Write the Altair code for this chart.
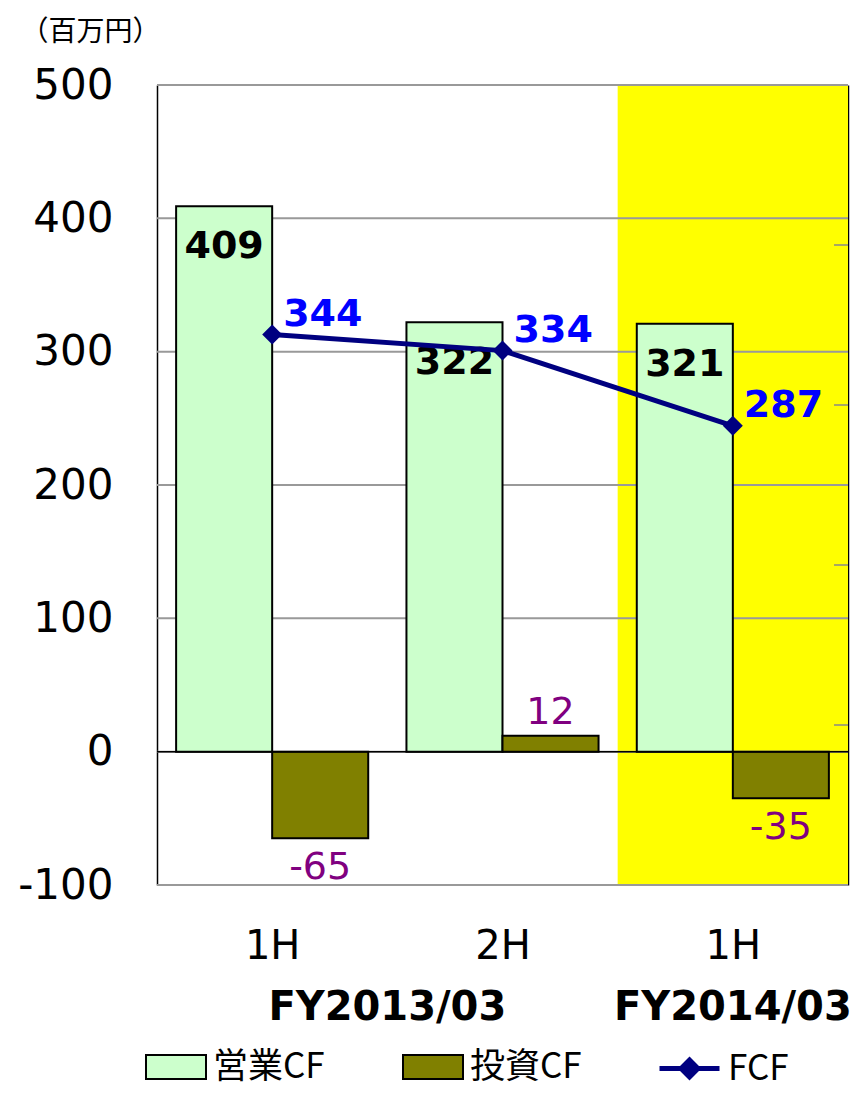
import json
import altair as alt
import pandas as pd

# ---- data ----
periods = ["1H", "2H", "1H"]
fiscal_years = ["FY2013/03", "FY2013/03", "FY2014/03"]
operating_cf = [409, 322, 321]
investing_cf = [-65, 12, -35]
free_cf = [344, 334, 287]
highlight_year = "FY2014/03"
series_names = ["営業CF", "投資CF", "FCF"]
series_colors = ["#CCFFCC", "#808000", "#000080"]
left_ticks = [-100, 0, 100, 200, 300, 400, 500]
right_ticks = [100, 200, 300, 400]
left_domain = [-100, 500]
right_domain = [0, 500]
unit_label = "（百万円）"

# ---- layout / style ----
W, H = 691, 800
NUM_FONT = "DejaVu Sans"
JP_FONT = "Noto Sans CJK JP"
GAP = 0.083  # outer gap of each category slot (fraction of slot)

n = len(periods)
idx = list(range(n))

bars_df = pd.DataFrame({
    "idx": idx * 2,
    "series": [series_names[0]] * n + [series_names[1]] * n,
    "value": operating_cf + investing_cf,
    "slot": [0] * n + [1] * n,
})
fcf_df = pd.DataFrame({"idx": idx, "series": series_names[2], "value": free_cf})
fy_df = pd.DataFrame({"idx": idx, "fy": fiscal_years})
hl_df = pd.DataFrame({"idx": [i for i, fy in zip(idx, fiscal_years) if fy == highlight_year]})
hl_df["lo"] = left_domain[0]
hl_df["hi"] = left_domain[1]
grid_df = pd.DataFrame({"g": left_ticks})
rtick_df = pd.DataFrame({"t": right_ticks})

xscale = alt.Scale(domain=[0, n], nice=False, zero=False)
yscale_left = alt.Scale(domain=left_domain, nice=False, zero=False)
yscale_right = alt.Scale(domain=right_domain, nice=False, zero=False)

x_axis = alt.Axis(
    title=None, values=[i + 0.5 for i in idx],
    labelExpr=f"{json.dumps(periods, ensure_ascii=False)}[floor(datum.value)]",
    labelAngle=0, labelFont=NUM_FONT, labelFontSize=40, labelColor="black",
    labelPadding=41, domain=False, ticks=False, tickSize=0, grid=False,
)
y_axis_left = alt.Axis(
    values=left_ticks, grid=False, ticks=False, tickSize=0,
    domain=True, domainColor="black", domainWidth=1.5,
    labelExpr="'' + datum.value",
    labelFont=NUM_FONT, labelFontSize=42, labelColor="black", labelPadding=44,
    title=unit_label, titleAngle=0, titleAlign="left", titleBaseline="alphabetic",
    titleX=-137, titleY=-45, titleFont=JP_FONT, titleFontSize=28,
    titleFontWeight="normal", titleColor="black", titleLimit=300,
)
y_axis_right = alt.Axis(
    orient="right", labels=False, ticks=False, tickSize=0, grid=False,
    domain=True, domainColor="black", domainWidth=1.5, title=None,
)


def X(field):
    return alt.X(field, scale=xscale, axis=x_axis)


def YL(field):
    return alt.Y(field, scale=yscale_left, axis=y_axis_left)


def YR(field):
    return alt.Y(field, scale=yscale_right, axis=y_axis_right)


# ---- left (bar) layers ----
highlight = alt.Chart(hl_df).transform_calculate(
    x1="datum.idx", x2="datum.idx + 1"
).mark_rect(color="#FFFF00").encode(
    x=X("x1:Q"), x2="x2:Q",
    y=YL("lo:Q"), y2="hi:Q",
)

grid = alt.Chart(grid_df).mark_rule(color="#999999", strokeWidth=2).encode(
    y=YL("g:Q")
)

LEG_Y = 951

bar_legend = alt.Legend(
    title=None, orient="none", legendX=-12, legendY=LEG_Y, direction="horizontal",
    symbolType="M-1,-0.4H1V0.4H-1Z", symbolSize=3600,
    symbolStrokeColor="black", symbolStrokeWidth=2,
    labelFont=JP_FONT, labelFontSize=35, labelColor="black",
    labelOffset=6, columnPadding=74, padding=0,
)

bar_base = alt.Chart(bars_df).transform_calculate(
    bx1=f"datum.idx + {GAP} + datum.slot * (0.5 - {GAP})",
    bx2=f"datum.idx + 0.5 + datum.slot * (0.5 - {GAP})",
    bxc=f"datum.idx + ({GAP} + 0.5) / 2 + datum.slot * (0.5 - {GAP})",
    base="0",
    lbl="'' + datum.value",
)

bars = bar_base.mark_rect(stroke="black", strokeWidth=2).encode(
    x=X("bx1:Q"), x2="bx2:Q",
    y=YL("value:Q"), y2="base:Q",
    fill=alt.Fill("series:N", scale=alt.Scale(domain=series_names[:2], range=series_colors[:2]),
                  legend=bar_legend),
)

zero_line = alt.Chart(grid_df).transform_filter("datum.g == 0").mark_rule(
    color="black", strokeWidth=1.5
).encode(y=YL("g:Q"))

op_labels = bar_base.transform_filter(
    "datum.slot == 0"
).mark_text(font=NUM_FONT, fontSize=38, fontWeight="bold", color="black",
            baseline="alphabetic", dy=52).encode(
    x=X("bxc:Q"), y=YL("value:Q"), text="lbl:N",
)

inv_neg = bar_base.transform_filter(
    "datum.slot == 1 && datum.value < 0"
).mark_text(font=NUM_FONT, fontSize=38, color="#800080",
            baseline="alphabetic", dy=41).encode(
    x=X("bxc:Q"), y=YL("value:Q"), text="lbl:N",
)

inv_pos = bar_base.transform_filter(
    "datum.slot == 1 && datum.value >= 0"
).mark_text(font=NUM_FONT, fontSize=38, color="#800080",
            baseline="alphabetic", dy=-12).encode(
    x=X("bxc:Q"), y=YL("value:Q"), text="lbl:N",
)

fy_labels = alt.Chart(fy_df).transform_calculate(
    c="datum.idx + 0.5"
).transform_aggregate(
    c="mean(c)", groupby=["fy"]
).mark_text(font=NUM_FONT, fontSize=40, fontWeight="bold", color="black",
            baseline="alphabetic").encode(
    x=X("c:Q"),
    y=alt.value(935),
    text="fy:N",
)

left = alt.layer(highlight, grid, bars, zero_line, op_labels, inv_neg, inv_pos, fy_labels)

# ---- right (FCF line) layers ----
line_legend = alt.Legend(
    title=None, orient="none", legendX=500, legendY=LEG_Y, direction="horizontal",
    symbolType="M-1,0H1M0,-0.28L0.28,0L0,0.28L-0.28,0Z", symbolSize=3600,
    symbolStrokeColor=series_colors[2], symbolFillColor=series_colors[2],
    symbolStrokeWidth=5,
    labelFont=JP_FONT, labelFontSize=35, labelColor="black",
    labelOffset=6, padding=0,
)

fcf_base = alt.Chart(fcf_df).transform_calculate(cx="datum.idx + 0.5", lbl="'' + datum.value")

fcf_line = fcf_base.mark_line(strokeWidth=5).encode(
    x=X("cx:Q"), y=YR("value:Q"),
    stroke=alt.Stroke("series:N", scale=alt.Scale(domain=[series_names[2]], range=[series_colors[2]]),
                      legend=line_legend),
)

fcf_pts = fcf_base.mark_point(shape="diamond", filled=True, size=400,
                              color=series_colors[2], opacity=1).encode(
    x=X("cx:Q"), y=YR("value:Q"),
)

fcf_labels = fcf_base.mark_text(
    font=NUM_FONT, fontSize=38, fontWeight="bold", color="#0000FF",
    align="left", baseline="alphabetic", dx=11, dy=-9,
).encode(
    x=X("cx:Q"), y=YR("value:Q"), text="lbl:N",
)

rticks = alt.Chart(rtick_df).mark_rule(color="#888888", strokeWidth=1.5).encode(
    y=YR("t:Q"),
    x=alt.value(W - 14),
    x2=alt.value(W),
)

right = alt.layer(rticks, fcf_line, fcf_pts, fcf_labels)

chart = alt.layer(left, right).resolve_scale(y="independent").properties(
    width=W, height=H,
    autosize=alt.AutoSizeParams(type="none"),
    padding={"left": 149, "top": 77, "right": 12, "bottom": 204},
    background="white",
).configure_view(stroke=None)

chart.save("out.html", embed_options={"renderer": "svg", "actions": False})
